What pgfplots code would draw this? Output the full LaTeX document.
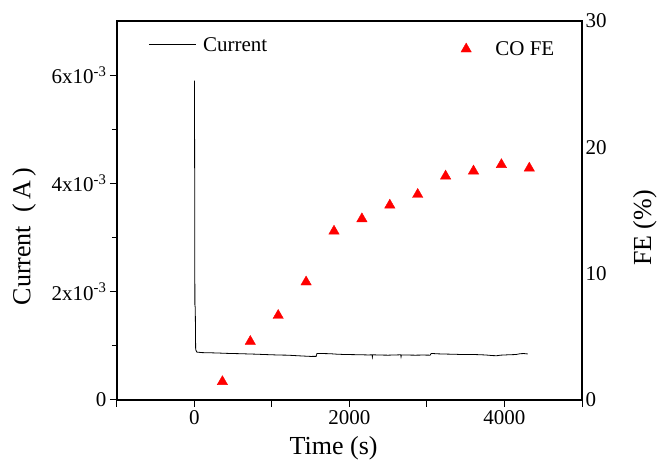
\documentclass[border=0pt]{standalone}
\usepackage{fontspec}
\setmainfont{Liberation Serif}
\usepackage{pgfplots}
\pgfplotsset{compat=1.18}
\begin{document}
\begin{tikzpicture}
\pgfplotsset{
  every axis/.append style={
    scale only axis, width=465pt, height=379pt,
    xmin=-1000, xmax=5000,
    tick label style={font=\fontsize{21}{21}\selectfont},
    label style={font=\fontsize{26}{26}\selectfont},
    axis line style={line width=1.3pt},
  }
}
\begin{axis}[
  name=ax,
  ymin=0, ymax=7e-3,
  xtick={-1000,0,1000,2000,3000,4000,5000},
  xticklabels={,0,,2000,,4000,},
  ytick={0,2e-3,4e-3,6e-3},
  yticklabels={0,2x10\textsuperscript{-3},4x10\textsuperscript{-3},6x10\textsuperscript{-3}},
  minor ytick={1e-3,3e-3,5e-3},
  scaled y ticks=false,
  tick pos=left, tick align=outside,
  major tick length=7pt, minor tick length=5pt,
  tick style={black, line width=1pt},
  xlabel={Time (s)},
  xlabel style={at={(axis description cs:0.466,-0.127)}, anchor=center},
  ylabel={Current\ \ (\,A\,)},
  ylabel style={at={(axis description cs:-0.2,0.431)}, anchor=center},
  legend style={at={(axis description cs:0.067,0.937)}, anchor=west, draw=none, fill=none,
    inner sep=0pt, font=\fontsize{21}{21}\selectfont},
  legend image code/.code={\path (0pt,0pt) (52pt,0pt); \draw[#1] (0pt,0pt) -- (47pt,0pt);},
]
\addplot[black, line width=0.8pt] coordinates {
(0,5.9e-3) (5,1.76e-3) (10,1.7e-3) (15,0.93e-3) (30,0.885e-3) (100,0.875e-3) (200,0.872e-3)
(300,0.868e-3) (400,0.862e-3) (500,0.858e-3) (600,0.855e-3) (700,0.85e-3) (800,0.846e-3)
(900,0.84e-3) (1000,0.835e-3) (1100,0.83e-3) (1200,0.828e-3) (1300,0.82e-3) (1400,0.812e-3)
(1500,0.805e-3) (1570,0.806e-3) (1580,0.86e-3) (1650,0.858e-3) (1750,0.855e-3) (1850,0.845e-3)
(1950,0.84e-3) (2050,0.838e-3) (2150,0.835e-3) (2250,0.832e-3) (2290,0.835e-3) (2295,0.79e-3)
(2300,0.835e-3) (2400,0.83e-3) (2500,0.828e-3) (2600,0.832e-3) (2660,0.835e-3) (2665,0.795e-3)
(2670,0.832e-3) (2750,0.83e-3) (2850,0.828e-3) (2950,0.83e-3) (3040,0.828e-3) (3055,0.86e-3)
(3150,0.852e-3) (3250,0.848e-3) (3350,0.845e-3) (3450,0.84e-3) (3550,0.842e-3) (3650,0.838e-3)
(3750,0.832e-3) (3850,0.82e-3) (3900,0.818e-3) (3950,0.828e-3) (4050,0.835e-3) (4150,0.84e-3)
(4200,0.855e-3) (4250,0.858e-3) (4300,0.85e-3)
};
\addlegendentry{Current}
\end{axis}
\begin{axis}[
  axis x line=none, axis y line*=right,
  ymin=0, ymax=30,
  ytick={0,10,20,30}, yticklabels={0,10,20,30},
  major tick length=0pt,
  ylabel={FE (\%)},
  ylabel style={at={(axis description cs:1.135,0.454)}, anchor=center},
  legend style={at={(axis description cs:0.735,0.926)}, anchor=west, draw=none, fill=none,
    inner sep=0pt, font=\fontsize{21}{21}\selectfont},
  legend image code/.code={\path (0pt,0pt) (34pt,0pt); \draw[#1] plot coordinates {(7pt,0pt)};},
]
\addplot[only marks, mark=triangle*, mark size=6pt, color=red] coordinates {
(360,1.45) (720,4.63) (1080,6.69) (1440,9.34) (1800,13.36) (2160,14.34)
(2520,15.42) (2880,16.27) (3240,17.72) (3600,18.12) (3960,18.63) (4320,18.35)
};
\addlegendentry{CO FE}
\end{axis}
\pgfresetboundingbox
\path (ax.south west) ++(-117pt,-65pt) rectangle ([shift={(79pt,21pt)}]ax.north east);
\end{tikzpicture}
\end{document}
